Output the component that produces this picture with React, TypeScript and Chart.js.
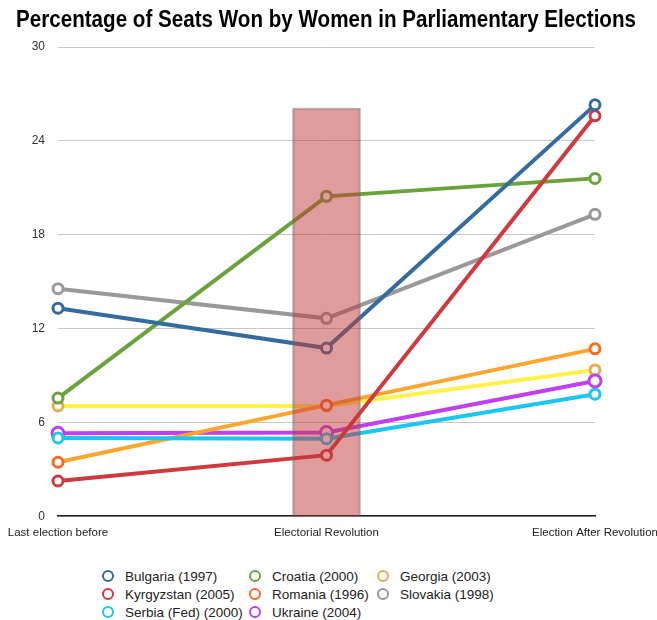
import React, { useEffect, useRef } from "react";
import { Chart, registerables } from "chart.js";

Chart.register(...registerables);

const titleText = "Percentage of Seats Won by Women in Parliamentary Elections";
const categories = ["Last election before", "Electorial Revolution", "Election After Revolution"];
const yTicks = [0, 6, 12, 18, 24, 30];

const seriesNames = [
  "Bulgaria (1997)",
  "Kyrgyzstan (2005)",
  "Serbia (Fed) (2000)",
  "Croatia (2000)",
  "Romania (1996)",
  "Ukraine (2004)",
  "Georgia (2003)",
  "Slovakia (1998)",
];
const bulgaria = [13.3, 10.75, 26.3];
const kyrgyzstan = [2.25, 3.9, 25.6];
const serbia = [5.0, 4.95, 7.8];
const croatia = [7.55, 20.45, 21.6];
const romania = [3.45, 7.1, 10.7];
const ukraine = [5.3, 5.35, 8.65];
const georgia = [7.05, 7.05, 9.35];
const slovakia = [14.55, 12.65, 19.3];
const revolutionBand = [null, 26.1, null];

const lineColors = ["#356C9E", "#D0393F", "#1CC6F2", "#6AA33A", "#FFA52C", "#BF3FF3", "#FFF34A", "#999999"];
const pointColors = ["#356C9E", "#D0393F", "#1CC6F2", "#6AA33A", "#FF6A22", "#BF3FF3", "#E9A94F", "#999999"];
const seriesData = [bulgaria, kyrgyzstan, serbia, croatia, romania, ukraine, georgia, slovakia];

const legendColumns = [
  [0, 1, 2],
  [3, 4, 5],
  [6, 7],
];
const legendColX = [102, 249, 377];

const condensedTitle = {
  id: "condensedTitle",
  afterDraw(chart: any) {
    const ctx = chart.ctx;
    ctx.save();
    ctx.fillStyle = "#000";
    ctx.font = "bold 24px 'Liberation Sans', Arial, sans-serif";
    ctx.textAlign = "center";
    ctx.textBaseline = "alphabetic";
    ctx.fillText(titleText, 326, 27, 620);
    ctx.restore();
  },
};

export default function App() {
  const ref = useRef<HTMLCanvasElement | null>(null);

  useEffect(() => {
    if (!ref.current) return;
    const lineSets: any[] = seriesData.map((d, i) => ({
      type: "line",
      label: seriesNames[i],
      data: d,
      borderColor: lineColors[i],
      borderWidth: 4,
      tension: 0,
      pointRadius: i === 5 ? 6 : 5,
      pointBorderWidth: 3,
      pointBackgroundColor: "#ffffff",
      pointBorderColor: pointColors[i],
      fill: false,
      order: 0,
    }));
    const chart = new Chart(ref.current, {
      type: "line",
      data: {
        labels: categories,
        datasets: [
          ...lineSets,
          {
            type: "bar",
            label: "Electoral Revolution",
            data: revolutionBand as any,
            backgroundColor: "rgba(193,57,57,0.5)",
            borderColor: "rgba(110,110,110,0.55)",
            borderWidth: 1.5,
            barThickness: 68,
            order: -1,
          } as any,
        ],
      },
      plugins: [condensedTitle],
      options: {
        animation: false,
        responsive: false,
        layout: { padding: { top: 47, bottom: 10 } },
        plugins: {
          legend: { display: false },
          tooltip: { enabled: false },
          title: { display: false },
        },
        scales: {
          x: {
            type: "category",
            offset: false,
            grid: { display: false, drawTicks: false },
            border: { display: true, color: "#222", width: 1.5 },
            afterFit: (s: any) => {
              s.paddingRight = 62;
              s.paddingLeft = 50;
            },
            ticks: {
              padding: 10,
              color: "#222",
              maxRotation: 0,
              font: { family: "'Liberation Sans', Arial, sans-serif", size: 11.5 },
            },
          },
          y: {
            min: 0,
            max: 30,
            afterBuildTicks: (s: any) => {
              s.ticks = yTicks.map((v) => ({ value: v }));
            },
            afterFit: (s: any) => {
              s.width = 58;
            },
            grid: { color: "#c8c8c8", lineWidth: 1, drawTicks: false },
            border: { display: false },
            ticks: {
              padding: 13,
              color: "#333",
              font: { family: "'Liberation Sans', Arial, sans-serif", size: 12 },
            },
          },
        },
      },
    });
    return () => chart.destroy();
  }, []);

  return (
    <div style={{ position: "absolute", left: 0, top: 0, width: 657, height: 620, background: "#fff" }}>
      <canvas ref={ref} width={657} height={560} style={{ display: "block" }} />
      {legendColumns.map((col, ci) =>
        col.map((idx, ri) => (
          <div
            key={idx}
            style={{
              position: "absolute",
              left: legendColX[ci],
              top: 567 + ri * 18,
              height: 18,
              display: "flex",
              alignItems: "center",
              fontFamily: "'Liberation Sans', Arial, sans-serif",
              fontSize: 13.5,
              color: "#222",
              whiteSpace: "nowrap",
            }}
          >
            <span
              style={{
                width: 8,
                height: 8,
                borderRadius: "50%",
                border: `2.5px solid ${pointColors[idx]}`,
                background: "#fff",
                marginRight: 11,
                display: "inline-block",
              }}
            />
            {seriesNames[idx]}
          </div>
        ))
      )}
    </div>
  );
}
